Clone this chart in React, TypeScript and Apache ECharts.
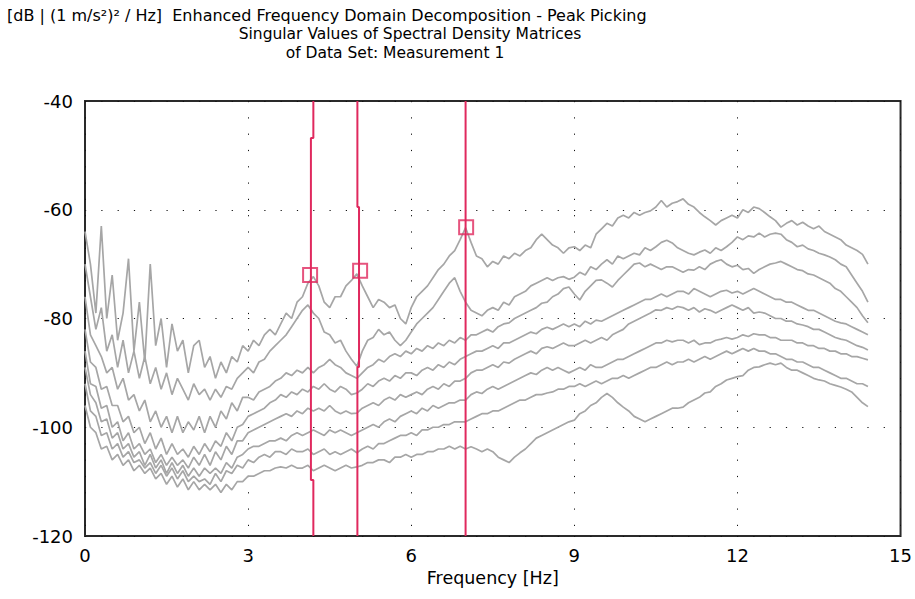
import React, { useEffect, useRef } from "react";
import * as echarts from "echarts";

// Frequency sampling step of the singular value curves (Hz), starting at 0 Hz
const FREQ_STEP = 0.1;

// Singular values [dB], one entry every 0.1 Hz from 0.0 to 14.4 Hz
const sv1 = [
  -64, -70, -79, -63, -80, -72, -84, -79, -69, -86,
  -77, -88, -70, -85, -80, -89, -81, -86, -84, -90,
  -85, -84, -89, -87, -91, -88, -90, -87, -88, -85,
  -86, -84, -85, -83, -82, -83, -81, -79, -80, -77,
  -76, -73.5, -72.3, -74, -77, -78, -76, -76, -74, -73,
  -71.8, -74, -76, -78, -76.5, -77, -78, -77.5, -80, -81,
  -78, -76, -75, -74, -72.5, -71, -70, -68.5, -67.5, -65.5,
  -63.3, -66, -68.5, -69, -70.5, -69.5, -70, -68.5, -69, -68,
  -68.5, -67.5, -67, -65.5, -64.5, -65.5, -66.5, -67, -68, -67,
  -66.8, -67.5, -66.5, -67, -64.5, -63.5, -62.5, -63, -61.5, -61,
  -61.5, -60.5, -61, -60.5, -60.2, -59.5, -58.3, -59.5, -58.8, -58.5,
  -58, -59, -59.5, -60.5, -61.3, -62, -62.8, -62, -61.5, -61,
  -61.5, -60, -60.5, -59.5, -59.8, -60.5, -61.3, -62, -63.2, -62.5,
  -62, -62.8, -62.3, -63, -63.5, -63, -64, -64.5, -65, -65.5,
  -66.5, -67, -67.5, -68.2, -70,
];
const sv2 = [
  -70, -76, -82, -78, -86, -83, -89, -84, -90, -86,
  -91, -87, -92, -89, -93, -90, -94, -91, -93, -95,
  -92, -94, -93, -95, -93, -94.5, -92.5, -93, -91, -90,
  -89, -90, -88, -87.5, -86, -85, -84, -83, -81.5, -80,
  -78.5, -77.5, -79, -80, -82.5, -83, -84.5, -84, -86, -87.5,
  -88.8, -86, -84, -83.5, -82, -83, -82.5, -84, -85, -84,
  -82.5, -81, -80, -79, -78, -76.5, -75, -73.5, -72.5, -75,
  -77, -78.5, -79, -79.5, -78.5, -78, -78.5, -77, -77.5, -76,
  -75.5, -75, -74, -73.5, -73, -72.5, -73, -72.5, -72.3, -72.8,
  -72.4, -71.5, -72, -70.5, -71, -70, -69.2, -70, -68.5, -69,
  -68.5, -68, -68.3, -67, -67.5, -66.8, -66, -65.6, -66.1, -67,
  -67.5, -68, -68.3, -67.8, -67.4, -68, -67, -67.5, -66.8, -66,
  -65, -65.5, -64.8, -65, -64.3, -65, -64.5, -64.3, -64.5, -65.5,
  -66, -66.8, -66.5, -67.2, -67.5, -68, -68.3, -68.7, -69.2, -70,
  -70.5, -72, -73.5, -75, -77,
];
const sv3 = [
  -76, -83, -85, -87, -90, -89, -93, -91, -95, -94,
  -97, -95, -99, -97, -100, -98, -101, -98, -101, -99,
  -100.5, -98, -101, -98, -100, -97, -98.5, -95.5, -97, -94.5,
  -94.5, -95, -93.5, -93, -92.5, -91.5, -91, -90, -90.5, -89.5,
  -90, -89, -90, -89, -88.5, -87.5, -88.5, -89, -90, -90.5,
  -91, -90, -89, -88.5, -87.5, -88, -87, -86.5, -87, -86,
  -86.5, -85.5, -86, -85, -85.5, -84.5, -85, -84, -84.5, -83.5,
  -84, -83, -83, -82.5, -82, -82.5, -81.5, -81, -80.8, -80,
  -79.5, -79, -78.5, -78, -77.2, -77, -76, -75.5, -74.5, -74.2,
  -75.5, -76.6, -75, -74, -73, -72.9, -73.5, -74.2, -73, -72,
  -71, -70, -69.8, -70.5, -70, -70.5, -71, -70.5, -70.5, -71,
  -71.5, -71, -71.1, -70.5, -71, -70, -69.5, -69.2, -70, -70.5,
  -70.2, -71, -70.8, -71.7, -71, -70.5, -70, -69.8, -69.5, -70,
  -70.5, -71, -71.2, -71.8, -72, -72.5, -73, -73.5, -74.5, -75,
  -76, -77, -78, -79.5, -80.8,
];
const sv4 = [
  -82, -88, -89, -93, -92.5, -96, -96, -99, -98, -101,
  -100, -103, -101, -104, -102, -105, -103, -105, -104, -105.5,
  -103.5, -105, -103, -104.5, -102.5, -103.5, -101, -102.5, -100, -99.5,
  -98, -97.5, -97, -96.5, -95.5, -95, -94, -94.5, -93.5, -94,
  -93, -93.5, -92.5, -93, -92, -93, -93.5, -92.5, -93, -94,
  -93.7, -93, -92, -92.5, -91.5, -91, -91.5, -90.5, -91, -90,
  -90, -90.5, -89.5, -89, -89.5, -88.5, -89, -88, -88.5, -87.5,
  -87, -86.5, -86, -86, -85.5, -85, -85.5, -84.5, -84.5, -84,
  -83.5, -83, -82.5, -82.8, -82, -81.6, -82, -81.5, -81, -81.5,
  -81, -81.5, -80.5, -81, -80.3, -80.5, -80, -79.5, -79, -78.5,
  -78, -77.5, -77, -76.5, -76.5, -76, -75.5, -76, -75.5, -75,
  -75, -75.5, -74.5, -75, -75.5, -76, -75.5, -75, -74.8, -75.3,
  -75, -75.5, -75, -74.5, -75, -75.5, -76, -76.5, -76.5, -77,
  -77, -77.5, -78, -78.5, -78.5, -79, -79.5, -80, -80.5, -80.8,
  -81, -81.5, -82, -82.5, -83,
];
const sv5 = [
  -86, -92, -92.5, -96.5, -96, -100, -99, -102.5, -101, -104,
  -103, -105, -104, -106.5, -105, -107, -105.5, -107, -106, -107.5,
  -105.5, -107, -105, -107, -104.5, -106, -103.5, -105, -102.5, -102.5,
  -101, -100.5, -100, -99.5, -99, -98.5, -98, -97.5, -98, -97,
  -97.5, -96.5, -97, -96.5, -97, -96, -97, -97.5, -97, -97.5,
  -97.4, -96.5, -96, -95.5, -96, -95, -94.5, -95, -94, -94.5,
  -94, -93.5, -94, -93, -92.5, -93, -92, -92.5, -91.5, -91.5,
  -91, -90, -89.5, -89.5, -89, -88.5, -89, -88, -88.2, -87.5,
  -87, -86.5, -86, -86.5, -85.5, -85.2, -85.5, -85, -84.5, -85,
  -85, -84.5, -84, -84.5, -84, -83.5, -84, -83, -82.5, -82,
  -81, -80.5, -80, -79.5, -79, -78.4, -78.5, -78, -78.3, -77.8,
  -78, -78.5, -78, -78.8, -78.2, -78.5, -79, -78.5, -78, -77.5,
  -78, -78.5, -78, -79, -78.8, -79, -79.5, -80, -80, -80.5,
  -80.5, -81, -81.2, -81.5, -82, -82, -82.5, -83, -83.5, -83.8,
  -84, -84.5, -85, -85.3, -85.8,
];
const sv6 = [
  -89, -94, -95.5, -99, -98.5, -102, -101, -104, -103, -105.5,
  -104.5, -107, -105, -107.5, -106, -108.5, -106.5, -108.5, -107, -109,
  -107.5, -109, -107.5, -108.5, -107.5, -108.5, -106.5, -107.5, -105.5, -105,
  -104, -103.5, -103.5, -103, -102.5, -102.5, -102, -102.5, -101.5, -101,
  -101.5, -101, -100.5, -101, -101.5, -100.5, -101, -100.5, -101, -101.5,
  -101, -100.5, -100, -99.5, -100, -99, -98.5, -99, -98, -97.5,
  -97, -97.5, -96.5, -97, -96, -96.5, -96, -95.5, -95.5, -95,
  -95, -94, -93.5, -93.8, -93, -92.5, -93, -92.5, -92, -91.5,
  -91, -90.5, -90, -90.3, -89.5, -89, -89.5, -89, -89.5, -90,
  -89.5, -89, -89.5, -88.5, -89, -89, -88.5, -88, -87.5, -87.5,
  -87, -86.5, -86, -85.5, -85, -84.5, -84.5, -84, -84.3, -84,
  -84, -84.5, -84, -84.8, -84.5, -84.5, -84, -83.8, -83.5, -83.8,
  -83.5, -83, -83.3, -82.8, -83, -83, -83.5, -83.5, -84, -84,
  -84, -84.5, -84.5, -85, -85, -85.5, -85.5, -86, -86, -86.5,
  -86.5, -87, -87, -87.3, -87.6,
];
const sv7 = [
  -92, -97, -98, -101.5, -101, -104, -103, -105.5, -104.5, -106.5,
  -106, -107.5, -106.5, -108.5, -107, -109, -107.5, -109.5, -108, -110,
  -109, -110, -109.5, -110.5, -108.5, -110, -108, -108.5, -107, -107.5,
  -106, -106.5, -105.5, -105, -105.5, -104.5, -104.5, -105, -104, -104.5,
  -104.5, -104, -105, -104.5, -104, -105, -104.5, -105, -104.5, -104,
  -104.7, -104, -103.5, -104, -103, -103, -102.5, -102, -101.5, -101.5,
  -101, -101.5, -100.5, -100.5, -100, -100, -99.5, -99.5, -99, -99,
  -99, -98.5, -98, -97.5, -97.5, -97, -97, -96.5, -96, -95.5,
  -95, -95, -94.5, -94, -94, -93.7, -93.5, -93, -93, -92.5,
  -92.5, -92, -92.5, -92, -91.5, -92, -91.5, -91, -91, -90.5,
  -91, -90.5, -90, -89.5, -89, -89, -88.5, -88, -88.5, -88,
  -88, -87.5, -88, -87.5, -87, -87.5, -87, -86.5, -86, -86.5,
  -86, -85.5, -86, -85.5, -86, -86, -86.5, -86.5, -87, -87.5,
  -87.5, -88, -88, -88.5, -89, -89, -89.5, -90, -90.5, -91,
  -91, -91.5, -92, -92, -92.5,
];
const sv8 = [
  -96, -100, -101, -104, -103.5, -106, -105, -107, -106, -108,
  -107, -108.5, -107.5, -109.5, -108.5, -110.5, -109, -111, -109.5, -111.5,
  -110, -111.5, -110.5, -111.5, -110.5, -112, -110.5, -111.5, -110, -110,
  -109, -109, -108.5, -108, -108, -107.5, -107.3, -107.5, -107, -107.5,
  -107.5, -107, -108, -107.5, -107, -107.5, -108, -107.5, -107, -107.5,
  -107.3, -107, -106.5, -106.5, -106, -106, -106.5, -105.5, -105.5, -105,
  -105.5, -105, -105, -104.5, -104.5, -104, -104, -103.5, -104, -103.5,
  -104, -103.6, -104, -104.5, -104, -104.5, -105.5, -106, -106.5, -105.5,
  -104.7, -104, -103, -102, -101.5, -101, -100.5, -100, -99.5, -99,
  -98.7, -97.5, -97, -96, -95.5, -94.5, -93.8, -94.5, -95.5, -96.3,
  -97, -98, -98.5, -99, -98.5, -98, -97.5, -97, -96.5, -96.5,
  -96.3, -95.5, -95, -94.5, -93.7, -93.5, -92.5, -92, -91.3, -91,
  -90.7, -90.5, -89.5, -89, -88.9, -88.5, -88.2, -88.5, -88.2, -89,
  -89.5, -89.5, -90, -90.5, -91, -91.3, -91.5, -92, -92.3, -92.6,
  -93, -93.5, -94.5, -95.5, -96.2,
];
const singularValues = [sv1, sv2, sv3, sv4, sv5, sv6, sv7, sv8];

// Picked peaks
const peakFreqs = [4.14, 5.06, 7.01];
const peakDb = [-72.0, -71.2, -63.2];

// Peak marker lines (frequency, dB) as drawn, including small steps
const peakLine1F = [4.2, 4.2, 4.155, 4.155, 4.2, 4.2];
const peakLine1D = [-40, -46.8, -46.8, -109.7, -109.7, -120];
const peakLine2F = [5.01, 5.01, 5.04, 5.04, 5.01, 5.01];
const peakLine2D = [-40, -59.5, -59.5, -88.9, -88.9, -120];
const peakLine3F = [7.0, 7.0];
const peakLine3D = [-40, -120];

// Axes
const xMin = 0, xMax = 15, xInterval = 3;
const yMin = -120, yMax = -40, yInterval = 20;

const titleLine1 = "[dB | (1 m/s\u00B2)\u00B2 / Hz]  Enhanced Frequency Domain Decomposition - Peak Picking";
const titleLine2 = "Singular Values of Spectral Density Matrices";
const titleLine3 = "of Data Set: Measurement 1";
const xName = "Frequency [Hz]";

const FONT = "'DejaVu Sans', Verdana, sans-serif";
const GRAY = "#a6a6a6";
const RED = "#e0295e";

export default function App() {
  const ref = useRef<HTMLDivElement>(null);
  useEffect(() => {
    if (!ref.current) return;
    const chart = echarts.init(ref.current, undefined, { renderer: "svg" });
    const curveSeries = singularValues.map((vals, k) => ({
      type: "line",
      name: "SV" + (k + 1),
      data: vals.map((v, i) => [Math.round(i * FREQ_STEP * 10) / 10, v]),
      showSymbol: false,
      symbol: "none",
      lineStyle: { color: GRAY, width: 1.7 },
      z: 2,
      silent: true,
    }));
    const lineSeries = [
      [peakLine1F, peakLine1D],
      [peakLine2F, peakLine2D],
      [peakLine3F, peakLine3D],
    ].map(([fs, ds]) => ({
      type: "line",
      data: fs.map((f, i) => [f, ds[i]]),
      showSymbol: false,
      symbol: "none",
      lineStyle: { color: RED, width: 2 },
      z: 3,
      silent: true,
    }));
    const option = {
      animation: false,
      backgroundColor: "#ffffff",
      textStyle: { fontFamily: FONT },
      grid: {
        left: 85,
        top: 101,
        width: 816,
        height: 435,
        show: true,
        borderColor: "#2a2a2a",
        borderWidth: 2,
        backgroundColor: "transparent",
      },
      xAxis: {
        type: "value",
        min: xMin,
        max: xMax,
        interval: xInterval,
        axisLine: { show: false },
        axisTick: { show: false },
        axisLabel: { color: "#000", fontSize: 18, fontFamily: FONT, margin: 10 },
        splitLine: { show: true, lineStyle: { color: "#111", width: 1, type: [1.2, 15.1] } },
        name: xName,
        nameLocation: "middle",
        nameGap: 33,
        nameTextStyle: { color: "#000", fontSize: 17.5, fontFamily: FONT },
      },
      yAxis: {
        type: "value",
        min: yMin,
        max: yMax,
        interval: yInterval,
        axisLine: { show: false },
        axisTick: { show: false },
        axisLabel: { color: "#000", fontSize: 18, fontFamily: FONT, margin: 12 },
        splitLine: { show: true, lineStyle: { color: "#111", width: 1, type: [1.2, 15.1] } },
      },
      graphic: [
        { type: "text", left: 7, top: 7, style: { text: titleLine1, fill: "#000", font: "16px " + FONT } },
        { type: "text", x: 410, y: 34, style: { text: titleLine2, fill: "#000", font: "15.5px " + FONT, textAlign: "center", textVerticalAlign: "middle" } },
        { type: "text", x: 395, y: 53, style: { text: titleLine3, fill: "#000", font: "15.5px " + FONT, textAlign: "center", textVerticalAlign: "middle" } },
      ],
      series: [
        ...curveSeries,
        ...lineSeries,
        {
          type: "scatter",
          data: peakFreqs.map((f, i) => [f, peakDb[i]]),
          symbol: "rect",
          symbolSize: 14,
          itemStyle: { color: "rgba(0,0,0,0)", borderColor: RED, borderWidth: 2 },
          z: 4,
          silent: true,
        },
      ],
    };
    chart.setOption(option as any);
    return () => chart.dispose();
  }, []);
  return (
    <div
      ref={ref}
      style={{ position: "fixed", left: 0, top: 0, width: 915, height: 599, background: "#fff" }}
    />
  );
}
